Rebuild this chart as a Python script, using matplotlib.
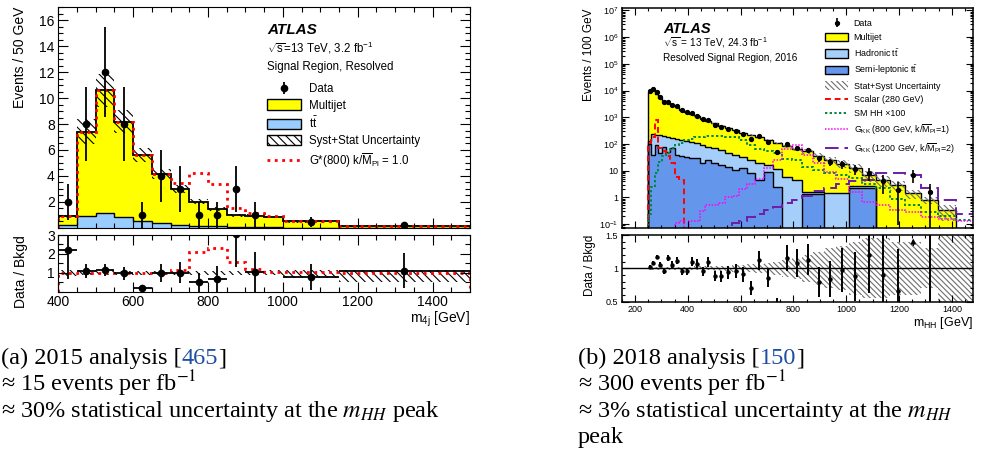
import numpy as np
import matplotlib
matplotlib.use("Agg")
import matplotlib.pyplot as plt
from matplotlib.patches import Patch
from matplotlib.lines import Line2D
from matplotlib.ticker import MultipleLocator, LogLocator, FuncFormatter, NullFormatter, FixedLocator

plt.rcParams["font.family"] = ["Liberation Sans", "DejaVu Sans"]
plt.rcParams["mathtext.fontset"] = "custom"
plt.rcParams["mathtext.rm"] = "Liberation Sans"
plt.rcParams["mathtext.it"] = "Liberation Sans:italic"
plt.rcParams["mathtext.bf"] = "Liberation Sans:bold"
plt.rcParams["hatch.linewidth"] = 0.8

# ---------------- (a) 2015 analysis, events / 50 GeV ----------------
edges_a = [400, 450, 500, 550, 600, 650, 700, 750, 800, 850, 900, 950, 1000, 1150, 1500]
multijet_a = [0.7, 6.49, 9.4, 7.34, 5.06, 3.75, 2.73, 1.85, 1.34, 0.9, 0.89, 0.79, 0.52, 0.17]
ttbar_a = [0.2, 0.93, 1.18, 0.83, 0.54, 0.41, 0.25, 0.18, 0.12, 0.08, 0.06, 0.05, 0.03, 0.01]
unc_up_a = [0.15, 0.13, 0.12, 0.11, 0.1, 0.1, 0.1, 0.1, 0.1, 0.1, 0.1, 0.12, 0.12, 0.15]
unc_dn_a = [0.15, 0.13, 0.12, 0.11, 0.1, 0.1, 0.1, 0.1, 0.1, 0.1, 0.1, 0.12, 0.3, 0.5]
signal_a = [0, 0, 0, 0, 0.01, 0.03, 0.45, 2.2, 1.95, 0.55, 0.17, 0.05, 0.01, 0.0]
data_a = [2, 8, 12, 8, 1, 4, 3, 1, 1, 3, 1, np.nan, 0.43, 0.2]

# ---------------- (b) 2018 analysis, events / 100 GeV ----------------
edges_b = [250, 262, 275, 289, 303, 318, 334, 350, 367, 386, 405, 424, 445, 467, 490, 515,
           540, 567, 595, 624, 655, 687, 721, 756, 794, 833, 874, 917, 962, 1009, 1059, 1111,
           1166, 1224, 1284, 1347, 1414, 1483]
multijet_b = [8990, 10490, 7380, 5040, 3780, 3120, 2650, 2250, 1810, 1460,
              1200, 965, 798, 645, 535, 420, 350, 284, 236, 194,
              159, 125, 101, 77.6, 61.5, 50.9, 34.7, 24.3, 16.8, 10.6,
              4.3, 4.47, 2.88, 1.41, 0.79, 0.34, 0]
hadronic_b = [26, 194, 125, 169, 121, 134, 95, 111, 103, 94,
              85, 78, 73, 53, 49, 43, 34, 29, 20, 17,
              14.5, 6.9, 8.7, 5.6, 4.6, 0.2, 0.2, 1.45, 1.45, 0.3,
              0.3, 0, 0, 0, 0, 0, 0]
semilep_b = [100, 40, 89, 45, 79, 52, 71, 40, 35, 32,
             30, 29, 20, 26, 19, 16, 14, 11, 12.6, 7.9,
             4.5, 8.9, 2.5, 0, 0, 1.4, 1.4, 0, 0, 2.3,
             2.3, 0, 0, 0, 0, 0, 0]
unc_b = [0.02, 0.02, 0.02, 0.02, 0.02, 0.02, 0.02, 0.02, 0.025, 0.025,
         0.025, 0.03, 0.03, 0.03, 0.035, 0.04, 0.04, 0.05, 0.05, 0.06,
         0.07, 0.08, 0.1, 0.13, 0.16, 0.2, 0.25, 0.3, 0.33, 0.4,
         0.45, 0.45, 0.4, 0.4, 0.3, 0.6, 0.6]
scalar_b = [112, 178, 794, 71, 56, 35, 20, 5.6, 4.5] + [0] * 28
smhh_b = [0.25, 2.5, 7.9, 22, 35, 45, 71, 89, 112, 141,
          158, 178, 190, 200, 200, 195, 186, 178, 141, 89,
          63, 56, 45, 28, 25, 14, 11, 7.9, 7.1, 5.2,
          3.2, 2.2, 0.9, 0.5, 0.28, 0.2, 0.14]
gkk800_b = [0, 0, 0, 0, 0, 0, 0, 0.11, 0.13, 0,
            0.13, 0.13, 0.32, 0.52, 0.52, 0.6, 1.0, 1.1, 2.0, 3.2,
            5.1, 12.3, 25, 63, 89, 40, 20, 8.9, 5.0, 1.6,
            0.7, 0.5, 0.35, 0.28, 0.18, 0.16, 0.13]
gkk1200_b = [0] * 17 + [0.11, 0.13, 0.18,
             0.25, 0.35, 0.45, 0.63, 0.8, 1.1, 1.8, 2.2, 3.2, 4.0,
             4.5, 8.0, 8.0, 7.0, 2.2, 0.8, 0.25]
data_b = [9300, 11580, 8880, 5540, 3800, 3820, 2975, 2675, 1862, 1514,
          1443, 1147, 851, 793, 537, 421, 374, 312, 244, 154,
          199, 121, 50, 96, 71.4, 59.3, 28.7, 21.6, 17.8, 11.6,
          8.3, 4.0, 1.9, 6.9, 1.6, np.nan, np.nan]

YELLOW = "#ffff00"
TT_A = "#99ccff"
HAD = "#a6cefa"
SEMI = "#6496ec"
GREEN = "#00873e"
PURPLE = "#6b1fa8"
GREY_HATCH = "#6e6e6e"
BLUE_REF = "#1f4fa0"

fig = plt.figure(figsize=(9.89, 4.59), dpi=100)

ax_a = fig.add_axes([0.0589, 0.5033, 0.4163, 0.4814])
ax_ar = fig.add_axes([0.0589, 0.3649, 0.4163, 0.1231])
ax_b = fig.add_axes([0.6286, 0.5026, 0.3552, 0.4793])
ax_br = fig.add_axes([0.6286, 0.3427, 0.3552, 0.1453])

# ---------- panel (a) ----------
ea = np.array(edges_a, dtype=float)
wa = np.diff(ea)
ca = 0.5 * (ea[:-1] + ea[1:])
tt_a = np.array(ttbar_a)
tot_a = tt_a + np.array(multijet_a)
up_a = tot_a * (1 + np.array(unc_up_a))
dn_a = tot_a * (1 - np.array(unc_dn_a))
d_a = np.array(data_a, dtype=float)
err_a = np.sqrt(d_a * wa / 50) * 50 / wa

ax_a.stairs(tot_a, ea, fill=True, color=YELLOW)
ax_a.stairs(tt_a, ea, fill=True, color=TT_A)
ax_a.stairs(tot_a, ea, color="k", lw=1.3)
ax_a.stairs(tt_a, ea, color="k", lw=1.0)
ax_a.stairs(up_a, ea, baseline=dn_a, fill=True, facecolor="none",
            edgecolor="k", hatch="\\\\\\\\", lw=0)
ax_a.stairs(tot_a + np.array(signal_a), ea, color="red", ls=":", lw=2)
eb_a = ax_a.errorbar(ca, d_a, yerr=err_a, fmt="o", color="k", ms=4.5, elinewidth=1.3, capsize=0)

ax_a.set_xlim(400, 1500)
ax_a.set_ylim(0, 17)
ax_a.yaxis.set_major_locator(FixedLocator([2, 4, 6, 8, 10, 12, 14, 16]))
ax_a.yaxis.set_minor_locator(MultipleLocator(0.5))
ax_a.xaxis.set_major_locator(MultipleLocator(200))
ax_a.xaxis.set_minor_locator(MultipleLocator(50))
ax_a.tick_params(labelbottom=False)
ax_a.set_ylabel("Events / 50 GeV", fontsize=10, loc="top")
ax_a.yaxis.set_label_coords(-0.075, 1.0)

ax_a.text(0.507, 0.896, "ATLAS", transform=ax_a.transAxes, fontsize=11,
          fontweight="bold", style="italic", va="center")
ax_a.text(0.507, 0.815, r"$\sqrt{\mathrm{s}}$=13 TeV, 3.2 fb$^{-1}$", transform=ax_a.transAxes,
          fontsize=8.3, va="center")
ax_a.text(0.507, 0.729, "Signal Region, Resolved", transform=ax_a.transAxes,
          fontsize=8.3, va="center")

handles_a = [
    eb_a,
    Patch(facecolor=YELLOW, edgecolor="k", lw=1),
    Patch(facecolor=TT_A, edgecolor="k", lw=1),
    Patch(facecolor="white", edgecolor="k", hatch="\\\\\\\\", lw=1),
    Line2D([], [], color="red", ls=":", lw=2),
]
labels_a = ["Data", "Multijet", r"$\mathrm{t\bar{t}}$", "Syst+Stat Uncertainty",
            r"G*(800) k/$\overline{\mathrm{M}}_{\mathrm{Pl}}$ = 1.0"]
ax_a.legend(handles_a, labels_a, loc="upper left", bbox_to_anchor=(0.507, 0.655),
            frameon=False, fontsize=8.3, borderpad=0, borderaxespad=0,
            handlelength=2.95, handleheight=1.0, handletextpad=0.7, labelspacing=0.35)

# ratio (a)
rat_a = d_a / tot_a
rerr_a = err_a / tot_a
ax_ar.stairs(1 + np.array(unc_up_a), ea, baseline=1 - np.array(unc_dn_a), fill=True,
             facecolor="none", edgecolor="k", hatch="\\\\\\\\", lw=0)
ax_ar.stairs((tot_a + np.array(signal_a)) / tot_a, ea, color="red", ls=":", lw=2)
ax_ar.errorbar(ca, rat_a, yerr=rerr_a, xerr=wa / 2, fmt="o", color="k", ms=4.5,
               elinewidth=1.3, capsize=0)
ax_ar.set_xlim(400, 1500)
ax_ar.set_ylim(0, 3)
ax_ar.yaxis.set_major_locator(FixedLocator([1, 2, 3]))
ax_ar.yaxis.set_minor_locator(MultipleLocator(0.5))
ax_ar.xaxis.set_major_locator(MultipleLocator(200))
ax_ar.xaxis.set_minor_locator(MultipleLocator(50))
ax_ar.set_ylabel("Data / Bkgd", fontsize=10, loc="top")
ax_ar.yaxis.set_label_coords(-0.074, 1.0)
ax_ar.set_xlabel(r"$\mathrm{m_{4j}}$ [GeV]", fontsize=10, loc="right")
ax_ar.xaxis.set_label_coords(1.0, -0.33)

for ax in (ax_a, ax_ar):
    ax.tick_params(which="both", direction="in", top=True, right=True, labelsize=10, pad=2.5)
    ax.tick_params(which="major", length=7, width=0.8)
    ax.tick_params(which="minor", length=3.5, width=0.8)

# ---------- panel (b) ----------
FLOOR = 1e-3
eb = np.array(edges_b, dtype=float)
wb = np.diff(eb)
cb = 0.5 * (eb[:-1] + eb[1:])
semi = np.array(semilep_b, dtype=float)
tt_b = semi + np.array(hadronic_b)
tot_b = tt_b + np.array(multijet_b)
d_b = np.array(data_b, dtype=float)
err_b = np.sqrt(d_b * wb / 100) * 100 / wb

ax_b.stairs(np.maximum(tot_b, FLOOR), eb, baseline=FLOOR, fill=True, color=YELLOW)
ax_b.stairs(np.maximum(tt_b, FLOOR), eb, baseline=FLOOR, fill=True, color=HAD)
ax_b.stairs(np.maximum(semi, FLOOR), eb, baseline=FLOOR, fill=True, color=SEMI)
for arr in (tot_b, tt_b, semi):
    ax_b.stairs(np.maximum(arr, FLOOR), eb, baseline=FLOOR, color="k", lw=1.0)
ub = np.array(unc_b)
ax_b.stairs(np.maximum(tot_b * (1 + ub), FLOOR), eb, baseline=np.maximum(tot_b * (1 - ub), FLOOR),
            fill=True, facecolor="none", edgecolor=GREY_HATCH, hatch="\\\\\\\\\\\\", lw=0)
ax_b.stairs(np.maximum(scalar_b, FLOOR), eb, baseline=FLOOR, color="red", ls=(0, (3, 2)), lw=1.4)
ax_b.stairs(np.maximum(smhh_b, FLOOR), eb, baseline=FLOOR, color=GREEN, ls=(0, (1.2, 1.2)), lw=1.4)
ax_b.stairs(np.maximum(gkk800_b, FLOOR), eb, baseline=FLOOR, color="#ff00ff", ls=(0, (1, 1)), lw=1.1)
ax_b.stairs(np.maximum(gkk1200_b, FLOOR), eb, baseline=FLOOR, color=PURPLE, ls=(0, (7, 3)), lw=1.4)
ebar_b = ax_b.errorbar(cb, d_b, yerr=err_b, fmt="o", color="k", ms=2.8, elinewidth=1.2, capsize=0)

ax_b.set_yscale("log")
ax_b.set_xlim(150, 1480)
ax_b.set_ylim(0.07, 1.2e7)
ax_b.yaxis.set_major_locator(LogLocator(base=10, numticks=20))
ax_b.yaxis.set_minor_locator(LogLocator(base=10, subs=np.arange(2, 10), numticks=100))
ax_b.yaxis.set_minor_formatter(NullFormatter())


def log_label(v, pos):
    if np.isclose(v, 1):
        return "1"
    if np.isclose(v, 10):
        return "10"
    return r"$10^{%d}$" % round(np.log10(v))


ax_b.yaxis.set_major_formatter(FuncFormatter(log_label))
ax_b.xaxis.set_major_locator(MultipleLocator(200))
ax_b.xaxis.set_minor_locator(MultipleLocator(50))
ax_b.tick_params(labelbottom=False)
ax_b.set_ylabel("Events / 100 GeV", fontsize=8.5, loc="top")
ax_b.yaxis.set_label_coords(-0.076, 1.0)

ax_b.text(0.118, 0.906, "ATLAS", transform=ax_b.transAxes, fontsize=10.5,
          fontweight="bold", style="italic", va="center")
ax_b.text(0.118, 0.842, r"$\sqrt{\mathrm{s}}$ = 13 TeV, 24.3 fb$^{-1}$", transform=ax_b.transAxes,
          fontsize=7.2, va="center")
ax_b.text(0.118, 0.774, "Resolved Signal Region, 2016", transform=ax_b.transAxes,
          fontsize=7.2, va="center")

handles_b = [
    ebar_b,
    Patch(facecolor=YELLOW, edgecolor="k", lw=1),
    Patch(facecolor=HAD, edgecolor="k", lw=1),
    Patch(facecolor=SEMI, edgecolor="k", lw=1),
    Patch(facecolor="none", edgecolor=GREY_HATCH, hatch="\\\\\\\\\\\\", lw=0),
    Line2D([], [], color="red", ls=(0, (3, 2)), lw=1.4),
    Line2D([], [], color=GREEN, ls=(0, (1.2, 1.2)), lw=1.4),
    Line2D([], [], color="#ff00ff", ls=(0, (1, 1)), lw=1.1),
    Line2D([], [], color=PURPLE, ls=(0, (7, 3)), lw=1.4),
]
labels_b = ["Data", "Multijet", r"Hadronic $\mathrm{t\bar{t}}$", r"Semi-leptonic $\mathrm{t\bar{t}}$",
            "Stat+Syst Uncertainty", "Scalar (280 GeV)", "SM HH \u00d7100",
            r"G$_{\mathrm{KK}}$ (800 GeV, k/$\overline{\mathrm{M}}_{\mathrm{Pl}}$=1)",
            r"G$_{\mathrm{KK}}$ (1200 GeV, k/$\overline{\mathrm{M}}_{\mathrm{Pl}}$=2)"]
ax_b.legend(handles_b, labels_b, loc="upper left", bbox_to_anchor=(0.579, 0.95),
            frameon=False, fontsize=6.4, borderpad=0, borderaxespad=0,
            handlelength=2.6, handleheight=1.05, handletextpad=0.6, labelspacing=0.52)

# ratio (b)
with np.errstate(divide="ignore", invalid="ignore"):
    rat_b = d_b / tot_b
    rerr_b = err_b / tot_b
ax_br.stairs(1 + ub, eb, baseline=1 - ub, fill=True, facecolor="none",
             edgecolor=GREY_HATCH, hatch="\\\\\\\\\\\\", lw=0)
ax_br.axhline(1, color="k", lw=1.0)
ax_br.errorbar(cb, rat_b, yerr=rerr_b, fmt="o", color="k", ms=2.2,
               elinewidth=1.4, capsize=0)
for x, r, e in zip(cb, rat_b, rerr_b):
    if np.isfinite(r) and r - e > 1.5:
        ax_br.annotate("", xy=(x, 1.49), xytext=(x, 1.3),
                       arrowprops=dict(arrowstyle="-|>", color="k", lw=1.0, mutation_scale=7))
ax_br.set_xlim(150, 1480)
ax_br.set_ylim(0.5, 1.5)
ax_br.yaxis.set_major_locator(FixedLocator([0.5, 1, 1.5]))
ax_br.yaxis.set_major_formatter(FuncFormatter(lambda v, p: "%g" % v))
ax_br.yaxis.set_minor_locator(MultipleLocator(0.1))
ax_br.xaxis.set_major_locator(MultipleLocator(200))
ax_br.xaxis.set_minor_locator(MultipleLocator(50))
ax_br.set_ylabel("Data / Bkgd", fontsize=8.5, loc="top")
ax_br.yaxis.set_label_coords(-0.073, 1.0)
ax_br.set_xlabel(r"$\mathrm{m_{HH}}$ [GeV]", fontsize=9, loc="right")
ax_br.xaxis.set_label_coords(1.0, -0.2)

for ax in (ax_b, ax_br):
    ax.tick_params(which="both", direction="in", top=True, right=True, labelsize=6.5, pad=2.5)
    ax.tick_params(which="major", length=5, width=0.8)
    ax.tick_params(which="minor", length=2.5, width=0.8)
    for s in ax.spines.values():
        s.set_linewidth(1.1)

# ---------- captions ----------
CAP_SIZE = 17.5


def caption(x, y_px, pieces):
    renderer = fig.canvas.get_renderer()
    y = 1 - y_px / 459
    for txt, col in pieces:
        t = fig.text(x, y, txt, color=col, fontsize=CAP_SIZE, family="Liberation Serif",
                     math_fontfamily="stix", va="baseline", ha="left")
        x += t.get_window_extent(renderer).width / fig.bbox.width


xa = 1 / 989
xb = 578 / 989
caption(xa, 364, [("(a) 2015 analysis [", "k"), ("465", BLUE_REF), ("]", "k")])
caption(xa, 391, [("\u2248 15 events per fb$^{-1}$", "k")])
caption(xa, 417, [("\u2248 30% statistical uncertainty at the $m_{HH}$ peak", "k")])
caption(xb, 364, [("(b) 2018 analysis [", "k"), ("150", BLUE_REF), ("]", "k")])
caption(xb, 391, [("\u2248 300 events per fb$^{-1}$", "k")])
caption(xb, 417, [("\u2248 3% statistical uncertainty at the $m_{HH}$", "k")])
caption(xb, 443, [("peak", "k")])

plt.savefig("out.png", dpi=100)
